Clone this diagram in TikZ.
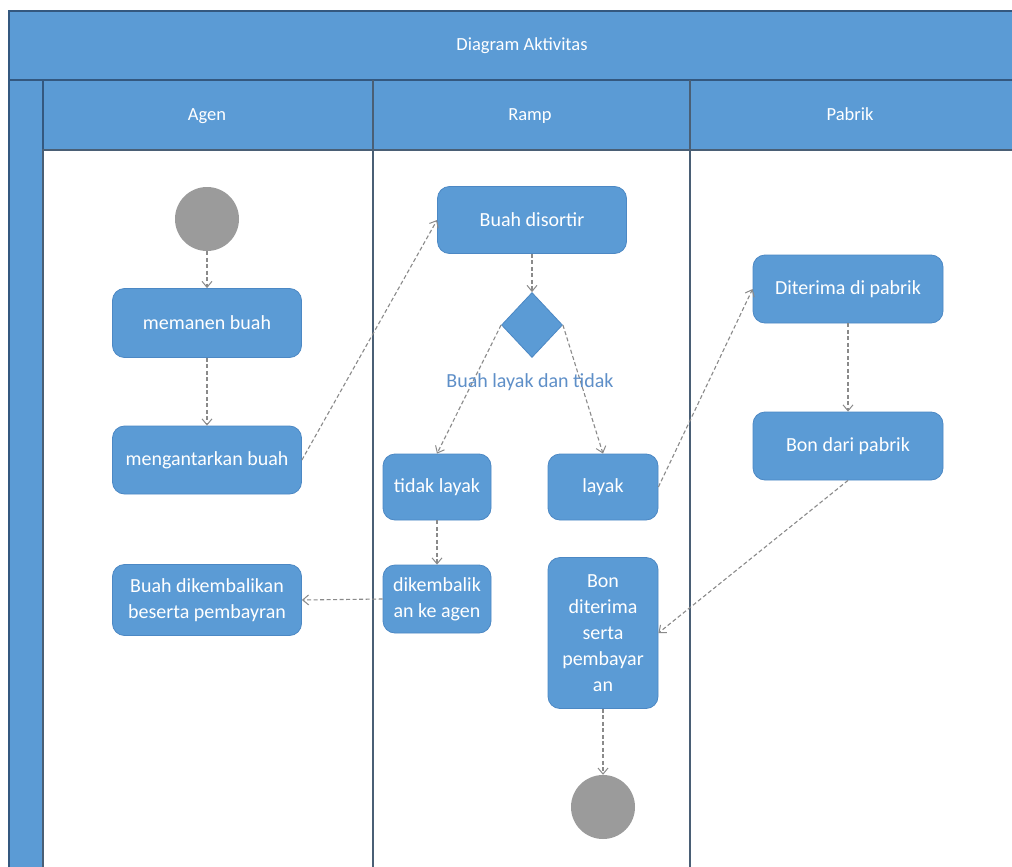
\documentclass[tikz,border=0pt]{standalone}
\usepackage{fontspec}
\setmainfont{Carlito}
\usetikzlibrary{shapes.geometric,arrows.meta}

\definecolor{ublue}{HTML}{5B9BD5}
\definecolor{uedge}{HTML}{4C88C4}
\definecolor{frame}{HTML}{34587F}
\definecolor{laneline}{HTML}{4A5F75}
\definecolor{flow}{HTML}{8A8A8A}
\definecolor{guard}{HTML}{5E8FC8}
\definecolor{dot}{HTML}{9B9B9B}

\tikzset{
  act/.style={draw=uedge, line width=0.8, fill=ublue, rounded corners=12,
    text=white, align=center, inner sep=0,
    font=\fontsize{20}{26}\selectfont},
  decision/.style={diamond, fill=ublue, draw=uedge, line width=0.8,
    inner sep=0, minimum width=61, minimum height=65},
  terminal/.style={circle, fill=dot, inner sep=0, minimum size=64},
  flowline/.style={draw=flow, dashed, dash pattern=on 4 off 2.5, line width=1.1,
    -{Straight Barb[length=6,width=10,line width=1]}},
  headtext/.style={text=white, font=\fontsize{18.5}{22}\selectfont,
    text height=13, text depth=4},
  guardtext/.style={text=guard, font=\fontsize{20}{24}\selectfont}
}

\begin{document}
\begin{tikzpicture}[x=1pt,y=-1pt]
\useasboundingbox (0,0) rectangle (1012,867);
\clip (0,0) rectangle (1012,867);

% swimlane frame
\fill[white] (0,0) rectangle (1012,867);
\draw[frame, line width=1.2, fill=ublue] (9,11) rectangle (1030,80);
\draw[frame, line width=1.2, fill=ublue] (9,80) rectangle (43,880);
\draw[frame, line width=1.2, fill=ublue] (43,80) rectangle (1030,150);
\draw[laneline, line width=1.2, fill=white] (43,150) rectangle (1030,880);
\draw[laneline, line width=1.2] (373,80) -- (373,880);
\draw[laneline, line width=1.2] (690,80) -- (690,880);

\node[headtext] (title) at (522,46) {Diagram Aktivitas};
\node[headtext] (agen) at (207,116) {Agen};
\node[headtext] (ramp) at (530,116) {Ramp};
\node[headtext] (pabrik) at (850,116) {Pabrik};

% Agen lane
\node[terminal] (start) at (207,219) {};
\node[act, minimum width=189, minimum height=69] (panen) at (207,323) {memanen buah};
\node[act, minimum width=189, minimum height=68] (antar) at (207,460) {mengantarkan buah};
\node[act, minimum width=189, minimum height=71] (kembaliagen) at (207,600) {Buah dikembalikan\\beserta pembayran};

% Ramp lane
\node[act, minimum width=189, minimum height=67] (sortir) at (532,220) {Buah disortir};
\node[decision] (pilih) at (532,325) {};
\node[act, minimum width=108, minimum height=66] (tidak) at (437,487) {tidak layak};
\node[act, minimum width=110, minimum height=66] (layak) at (603,487) {layak};
\node[act, minimum width=108, minimum height=68] (kembali) at (437,599) {dikembalik\\an ke agen};
\node[act, minimum width=110, minimum height=151] (bonterima) at (603,633) {Bon\\diterima\\serta\\pembayar\\an};
\node[terminal] (finish) at (603,807) {};

% Pabrik lane
\node[act, minimum width=190, minimum height=68] (terima) at (848,289) {Diterima di pabrik};
\node[act, minimum width=190, minimum height=68] (bondari) at (848,446) {Bon dari pabrik};

% control flow
\draw[flowline] (start) -- (panen);
\draw[flowline] (panen) -- (antar);
\draw[flowline] (antar.east) -- (sortir.west);
\draw[flowline] (sortir) -- (pilih.north);
\draw[flowline] (pilih.west) -- (tidak.north);
\draw[flowline] (pilih.east) -- (layak.north);
\draw[flowline] (layak.east) -- (terima.west);
\draw[flowline] (terima) -- (bondari);
\draw[flowline] (bondari.south) -- (bonterima.east);
\draw[flowline] (tidak) -- (kembali);
\draw[flowline] (kembali.west) -- (kembaliagen.east);
\draw[flowline] (bonterima) -- (finish);

\node[guardtext] (guard) at (530,382) {Buah layak dan tidak};
\end{tikzpicture}
\end{document}
